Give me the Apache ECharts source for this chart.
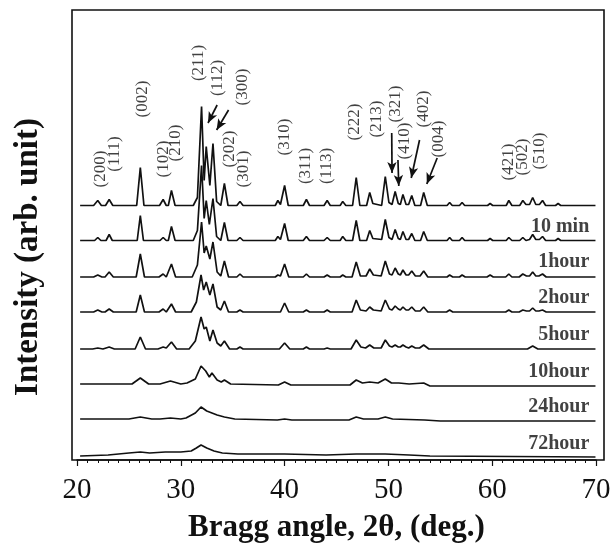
<!DOCTYPE html>
<html>
<head>
<meta charset="utf-8">
<script src="https://cdn.jsdelivr.net/npm/echarts@6/dist/echarts.min.js"></script>
<style>
  html, body { margin: 0; padding: 0; background: #fff; }
  #xrdChart { width: 615px; height: 548px; }
</style>
</head>
<body>
<div id="xrdChart"></div>
<script>
// XRD patterns, [2theta, intensity above the pattern's own baseline]
var traceRef = [[20.3,0],[21.6,0],[22.0,5],[22.35,0],[22.75,0],[23.1,6],[23.45,0],[25.75,0],[26.1,38],[26.45,0],
  [27.95,0],[28.3,6],[28.6,0],[28.8,0],[29.1,15],[29.45,0],[31.2,0],[31.6,8],[32.0,99],[32.25,25],[32.45,59],
  [32.8,20],[33.1,62],[33.45,4],[33.85,0],[34.2,22],[34.55,0],[35.4,0],[35.7,4],[36.0,0],[39.1,0],[39.35,5],
  [39.6,1],[40.0,20],[40.35,0],[41.8,0],[42.1,6],[42.4,0],[43.8,0],[44.1,5],[44.4,0],[45.35,0],[45.6,4],[45.9,0],
  [46.55,0],[46.9,28],[47.25,0],[47.9,0],[48.2,13],[48.5,2],[49.35,0],[49.7,29],[50.05,3],[50.35,1],[50.65,14],
  [50.95,2],[51.15,1],[51.4,11],[51.7,1],[51.95,1],[52.25,10],[52.55,0],[53.1,0],[53.4,13],[53.75,0],[55.65,0],
  [55.9,3],[56.15,0],[56.85,0],[57.1,3],[57.35,0],[59.55,0],[59.8,2],[60.05,0],[61.35,0],[61.6,5],[61.9,0],
  [62.65,0],[62.95,5],[63.25,1],[63.6,1],[63.9,8],[64.2,1],[64.55,1],[64.85,5],[65.15,0],[66.1,0],[66.35,2],
  [66.6,0],[69.95,0]];
var trace10min = [[20.3,0],[21.7,0],[22.0,3],[22.3,0],[22.8,0],[23.1,6],[23.4,0],[25.8,0],[26.1,25],[26.4,0],
  [28.0,0],[28.3,3],[28.6,0],[28.8,0],[29.1,14],[29.45,0],[31.2,0],[31.6,10],[32.0,75],[32.25,22],[32.45,40],
  [32.75,16],[33.1,42],[33.45,4],[33.85,0],[34.2,18],[34.55,0],[35.4,0],[35.7,3],[36.0,0],[39.1,0],[39.35,4],
  [39.6,1],[40.0,17],[40.35,0],[41.8,0],[42.1,4],[42.4,0],[43.8,0],[44.1,3],[44.4,0],[45.35,0],[45.6,4],[45.9,0],
  [46.55,0],[46.9,20],[47.25,0],[47.9,0],[48.2,10],[48.5,2],[49.35,1],[49.7,21],[50.05,3],[50.35,1],[50.65,11],
  [50.95,2],[51.15,1],[51.4,9],[51.7,1],[51.95,1],[52.25,7],[52.55,0],[53.1,0],[53.4,9],[53.75,0],[55.65,0],
  [55.9,3],[56.15,0],[56.85,0],[57.1,3],[57.35,0],[59.55,0],[59.8,2],[60.05,0],[61.35,0],[61.6,3],[61.9,0],
  [62.65,0],[62.95,3],[63.25,0],[63.6,1],[63.9,6],[64.2,1],[64.55,1],[64.85,4],[65.15,0],[66.1,0],[66.35,2],
  [66.6,0],[69.95,0]];
var trace1h = [[20.3,0],[21.6,0],[22.0,2],[22.4,0],[22.7,0],[23.1,5],[23.5,0],[25.7,0],[26.1,23],[26.5,0],
  [27.9,0],[28.3,3],[28.6,0],[28.75,0],[29.1,13],[29.5,0],[31.1,0],[31.6,12],[32.0,55],[32.25,24],[32.45,31],
  [32.8,18],[33.1,35],[33.5,5],[33.85,1],[34.2,16],[34.6,0],[35.4,0],[35.7,3],[36.0,0],[39.1,0],[39.35,2],
  [39.6,1],[40.0,13],[40.4,0],[41.8,0],[42.1,3],[42.4,0],[43.8,0],[44.1,2],[44.4,0],[45.35,0],[45.6,2],[45.9,0],
  [46.5,0],[46.9,15],[47.3,1],[47.85,1],[48.2,8],[48.55,2],[49.3,1],[49.7,16],[50.1,3],[50.35,2],[50.65,9],
  [50.95,3],[51.15,2],[51.4,7],[51.7,2],[51.95,2],[52.25,6],[52.6,1],[53.05,1],[53.4,6],[53.8,0],[55.65,0],
  [55.9,2],[56.2,0],[56.85,0],[57.1,2],[57.4,0],[59.5,0],[59.8,2],[60.1,0],[61.3,0],[61.6,3],[61.9,0],[62.6,0],
  [62.95,3],[63.3,1],[63.6,1],[63.9,5],[64.2,1],[64.5,1],[64.85,3],[65.2,0],[69.95,0]];
var trace2h = [[20.3,0],[21.6,0],[22.0,2],[22.4,0],[22.7,0],[23.1,3],[23.5,0],[25.7,0],[26.1,17],[26.5,0],
  [27.9,0],[28.3,3],[28.6,0],[28.75,0],[29.1,8],[29.5,0],[31.0,0],[31.5,10],[31.95,37],[32.2,22],[32.45,30],
  [32.8,17],[33.1,28],[33.5,5],[33.85,2],[34.2,11],[34.6,0],[35.4,0],[35.7,2],[36.0,0],[39.6,0],[40.0,9],
  [40.4,0],[41.8,0],[42.1,2],[42.4,0],[43.8,0],[44.1,2],[44.4,0],[46.5,0],[46.9,12],[47.3,2],[47.85,1],[48.2,5],
  [48.55,2],[49.3,1],[49.7,12],[50.1,3],[50.35,2],[50.65,6],[50.95,3],[51.15,2],[51.4,5],[51.7,2],[51.95,2],
  [52.25,5],[52.6,1],[53.05,1],[53.4,5],[53.8,0],[55.6,0],[55.9,2],[56.2,0],[61.3,0],[61.6,2],[61.9,0],[62.6,0],
  [62.95,2],[63.3,1],[63.6,1],[63.9,4],[64.2,1],[64.5,1],[64.85,2],[65.2,0],[69.95,0]];
var trace5h = [[20.3,0],[21.5,0],[22.0,1],[22.5,0],[22.6,0],[23.1,2],[23.6,0],[25.6,0],[26.1,12],[26.6,0],
  [27.8,0],[28.3,2],[28.6,1],[28.7,1],[29.1,7],[29.6,0],[30.8,0],[31.4,8],[31.95,32],[32.25,20],[32.45,22],
  [32.8,8],[33.1,19],[33.5,6],[33.85,3],[34.2,8],[34.7,0],[35.4,0],[35.7,2],[36.0,0],[39.5,0],[40.0,6],[40.5,0],
  [41.8,0],[42.1,2],[42.4,0],[43.8,0],[44.1,1],[44.4,0],[46.4,0],[46.9,9],[47.35,2],[47.8,1],[48.2,4],[48.6,1],
  [49.3,1],[49.7,9],[50.1,3],[50.35,2],[50.65,4],[50.95,2],[51.15,2],[51.4,4],[51.7,2],[51.95,1],[52.25,3],
  [52.6,1],[53.0,1],[53.4,4],[53.9,0],[63.4,0],[63.9,3],[64.4,0],[69.95,0]];
var trace10h = [[20.3,1],[25.3,1],[26.1,7],[26.9,1],[28.0,1],[29.0,4],[30.0,1],[30.6,2],[31.4,6],[31.95,19],
  [32.4,14],[32.75,8],[33.0,12],[33.5,5],[33.9,3],[34.2,5],[34.8,1],[39.4,0],[40.0,3],[40.6,0],[46.3,0],[46.9,5],
  [47.5,2],[48.2,3],[49.0,2],[49.7,6],[50.3,2],[51.0,2],[52.0,1],[53.4,2],[54.0,-1],[69.95,-1]];
var trace24h = [[20.3,2],[25.0,2],[26.1,4],[27.2,2],[28.0,2],[29.0,3],[30.0,2],[30.5,3],[31.4,8],[31.95,14],
  [32.5,10],[33.0,8],[33.5,6],[34.2,4],[35.2,2],[39.3,1],[40.0,2],[40.7,1],[46.2,1],[46.9,4],[47.6,2],[49.0,2],
  [49.7,4],[50.4,2],[53.5,1],[55.0,0],[69.95,0]];
var trace72h = [[20.3,0],[23.0,1],[25.0,3],[26.1,4],[27.0,3],[28.5,4],[30.0,4],[31.0,5],[31.5,8],[31.95,11],
  [32.5,8],[33.2,5],[34.0,3],[35.5,2],[40.0,2],[44.0,1],[46.9,2],[49.7,2],[52.0,1],[54.0,0],[69.95,-1]];

var traces = [traceRef, trace10min, trace1h, trace2h, trace5h, trace10h, trace24h, trace72h];
var offsets = [254.5, 219.5, 183, 148, 111, 75, 39, 4];

var timeNames = ['10 min', '1hour', '2hour', '5hour', '10hour', '24hour', '72hour'];
var timeLabelPos = [[69.35, 233], [69.35, 198], [69.35, 162], [69.35, 125], [69.35, 88], [69.35, 53], [69.35, 16]];

var hklNames = ['(200)', '(111)', '(002)', '(102)', '(210)', '(211)', '(112)', '(300)', '(202)', '(301)', '(310)',
  '(311)', '(113)', '(222)', '(213)', '(321)', '(410)', '(402)', '(004)', '(421)', '(502)', '(510)'];
var hklPos = [[22.31, 291], [23.66, 306], [26.33, 361], [28.31, 301], [29.54, 317], [31.69, 397], [33.55, 382],
  [35.92, 373], [34.67, 311], [36.09, 291], [40.04, 323], [42.06, 294], [44.06, 294], [46.78, 338], [48.87, 341],
  [50.64, 356], [51.6, 319], [53.36, 351], [54.81, 321], [61.55, 298], [62.94, 303], [64.6, 309]];

// arrows: [from 2theta, from y, to 2theta, to y]
var arrows = [[33.5, 355, 32.62, 337], [34.6, 350, 33.45, 330], [50.32, 327, 50.35, 287], [50.92, 300, 51.0, 274],
  [53.0, 320, 52.2, 282], [54.7, 302, 53.7, 276]];

var xTicks = [20, 70, 10];

var serif = 'Liberation Serif, Times New Roman, serif';
var myChart = echarts.init(document.getElementById('xrdChart'));

var series = traces.map(function(pts, i) {
  return {
    type: 'line',
    showSymbol: false,
    silent: true,
    lineStyle: { color: '#111', width: 1.7 },
    data: pts.map(function(p) { return [p[0], p[1] + offsets[i]]; })
  };
});

series.push({
  type: 'scatter',
  symbolSize: 0,
  silent: true,
  label: {
    show: true,
    position: 'inside',
    rotate: 90,
    color: '#111',
    fontFamily: serif,
    fontSize: 17,
    formatter: function(p) { return hklNames[p.dataIndex]; }
  },
  data: hklPos
});

series.push({
  type: 'scatter',
  symbolSize: 0,
  silent: true,
  label: {
    show: true,
    position: 'left',
    distance: 0,
    color: '#111',
    fontFamily: serif,
    fontWeight: 'bold',
    fontSize: 20,
    formatter: function(p) { return timeNames[p.dataIndex]; }
  },
  data: timeLabelPos
});

series.push({
  type: 'line',
  data: [],
  silent: true,
  markLine: {
    silent: true,
    symbol: ['none', 'arrow'],
    symbolSize: [7, 11],
    label: { show: false },
    lineStyle: { color: '#111', width: 1.7, type: 'solid' },
    data: arrows.map(function(a) {
      return [{ coord: [a[0], a[1]] }, { coord: [a[2], a[3]] }];
    })
  }
});

var option = {
  animation: false,
  backgroundColor: '#fff',
  grid: { left: 77, right: 19, top: 10, bottom: 88 },
  xAxis: {
    type: 'value',
    min: xTicks[0],
    max: xTicks[1],
    interval: xTicks[2],
    name: 'Bragg angle, 2θ, (deg.)',
    nameLocation: 'middle',
    nameGap: 52,
    nameTextStyle: { fontFamily: serif, fontWeight: 'bold', fontSize: 31, color: '#111' },
    axisLine: { show: true, lineStyle: { color: '#111', width: 1.5 } },
    axisTick: { show: true, inside: false, length: 6, lineStyle: { color: '#111', width: 1.2 } },
    minorTick: { show: true, splitNumber: 10, length: 3, lineStyle: { color: '#111', width: 1 } },
    axisLabel: { margin: 16, fontFamily: serif, fontSize: 29, color: '#111' },
    splitLine: { show: false }
  },
  yAxis: {
    type: 'value',
    min: 0,
    max: 450,
    name: 'Intensity (arb. unit)',
    nameLocation: 'middle',
    nameGap: 32,
    nameTextStyle: { fontFamily: serif, fontWeight: 'bold', fontSize: 33, color: '#111', padding: [0, 44, 0, 0] },
    axisLine: { show: false },
    axisTick: { show: false },
    axisLabel: { show: false },
    splitLine: { show: false }
  },
  graphic: [{
    type: 'rect',
    shape: { x: 72, y: 10, width: 532, height: 450 },
    style: { fill: 'none', stroke: '#111', lineWidth: 1.6 },
    silent: true
  }],
  series: series
};
myChart.setOption(option);
</script>
</body>
</html>
